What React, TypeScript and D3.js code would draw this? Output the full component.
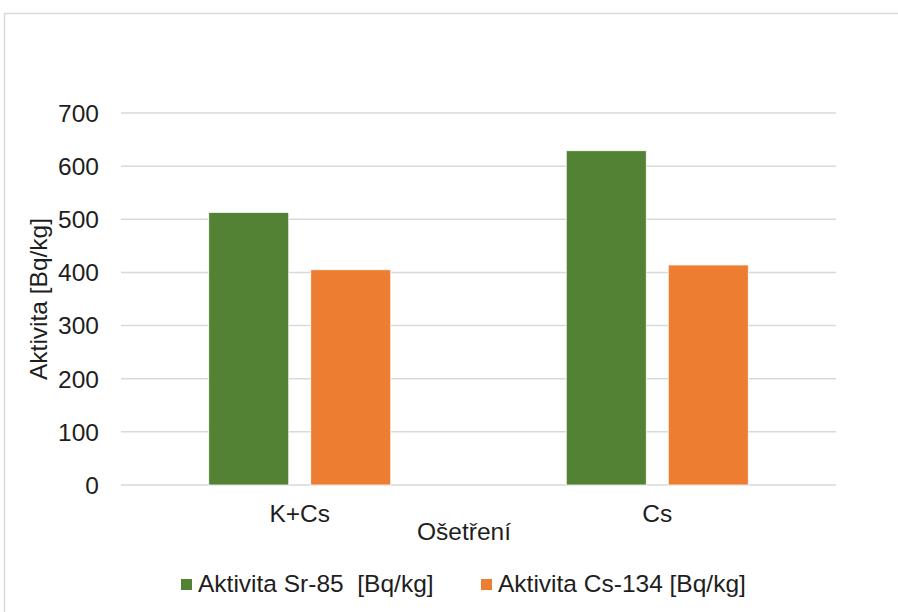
import React from "react";
import * as d3 from "d3";

const categories = ["K+Cs", "Cs"];
const seriesNames = ["Aktivita Sr-85  [Bq/kg]", "Aktivita Cs-134 [Bq/kg]"];
const sr85 = [513, 629];
const cs134 = [405, 414];
const yTicks = [0, 100, 200, 300, 400, 500, 600, 700];
const colors = ["#548235", "#ED7D31"];

const W = 898;
const H = 612;
const plot = { left: 121, right: 836, top: 113, bottom: 485 };
const FONT = "'Liberation Sans', Arial, sans-serif";
const TEXT = "#1e1e1e";
const FS = 24.5;

export default function App() {
  const x = d3
    .scaleBand<string>()
    .domain(categories)
    .range([plot.left, plot.right])
    .paddingInner(0)
    .paddingOuter(0);
  const y = d3.scaleLinear().domain([0, 700]).range([plot.bottom, plot.top]);

  const barW = 80;
  const gap = 22;
  const series = [sr85, cs134];

  return (
    <svg
      width={W}
      height={H}
      style={{ position: "absolute", left: 0, top: 0, background: "#fff" }}
      fontFamily={FONT}
    >
      <rect x={4.5} y={13.5} width={W + 10} height={H + 10} fill="#fff" stroke="#d9d9d9" strokeWidth={1.5} />

      {yTicks.map((t) => (
        <g key={t}>
          <line x1={plot.left} x2={plot.right} y1={y(t)} y2={y(t)} stroke="#d9d9d9" strokeWidth={1.5} />
          <text x={99} y={y(t)} dy="0.36em" textAnchor="end" fontSize={FS} fill={TEXT}>
            {t}
          </text>
        </g>
      ))}

      {categories.map((c, ci) => {
        const center = x(c)! + x.bandwidth() / 2;
        const groupW = barW * 2 + gap;
        return (
          <g key={c}>
            {series.map((s, si) => {
              const bx = center - groupW / 2 + si * (barW + gap);
              return (
                <rect
                  key={si}
                  x={bx}
                  y={y(s[ci])}
                  width={barW}
                  height={y(0) - y(s[ci])}
                  fill={colors[si]}
                  stroke="#fff"
                  strokeWidth={0.75}
                />
              );
            })}
            <text x={center} y={522} textAnchor="middle" fontSize={FS} fill={TEXT}>
              {c}
            </text>
          </g>
        );
      })}

      <text x={464} y={540} textAnchor="middle" fontSize={FS} fill={TEXT}>
        Ošetření
      </text>

      <text
        transform={`translate(47, ${(plot.top + plot.bottom) / 2}) rotate(-90)`}
        textAnchor="middle"
        fontSize={FS}
        fill={TEXT}
      >
        Aktivita [Bq/kg]
      </text>

      {seriesNames.map((n, i) => {
        const lx = i === 0 ? 181 : 481;
        return (
          <g key={n}>
            <rect x={lx} y={579} width={11} height={11} fill={colors[i]} />
            <text x={lx + 17} y={592} fontSize={FS} fill={TEXT} style={{ whiteSpace: "pre" }}>
              {n}
            </text>
          </g>
        );
      })}
    </svg>
  );
}
